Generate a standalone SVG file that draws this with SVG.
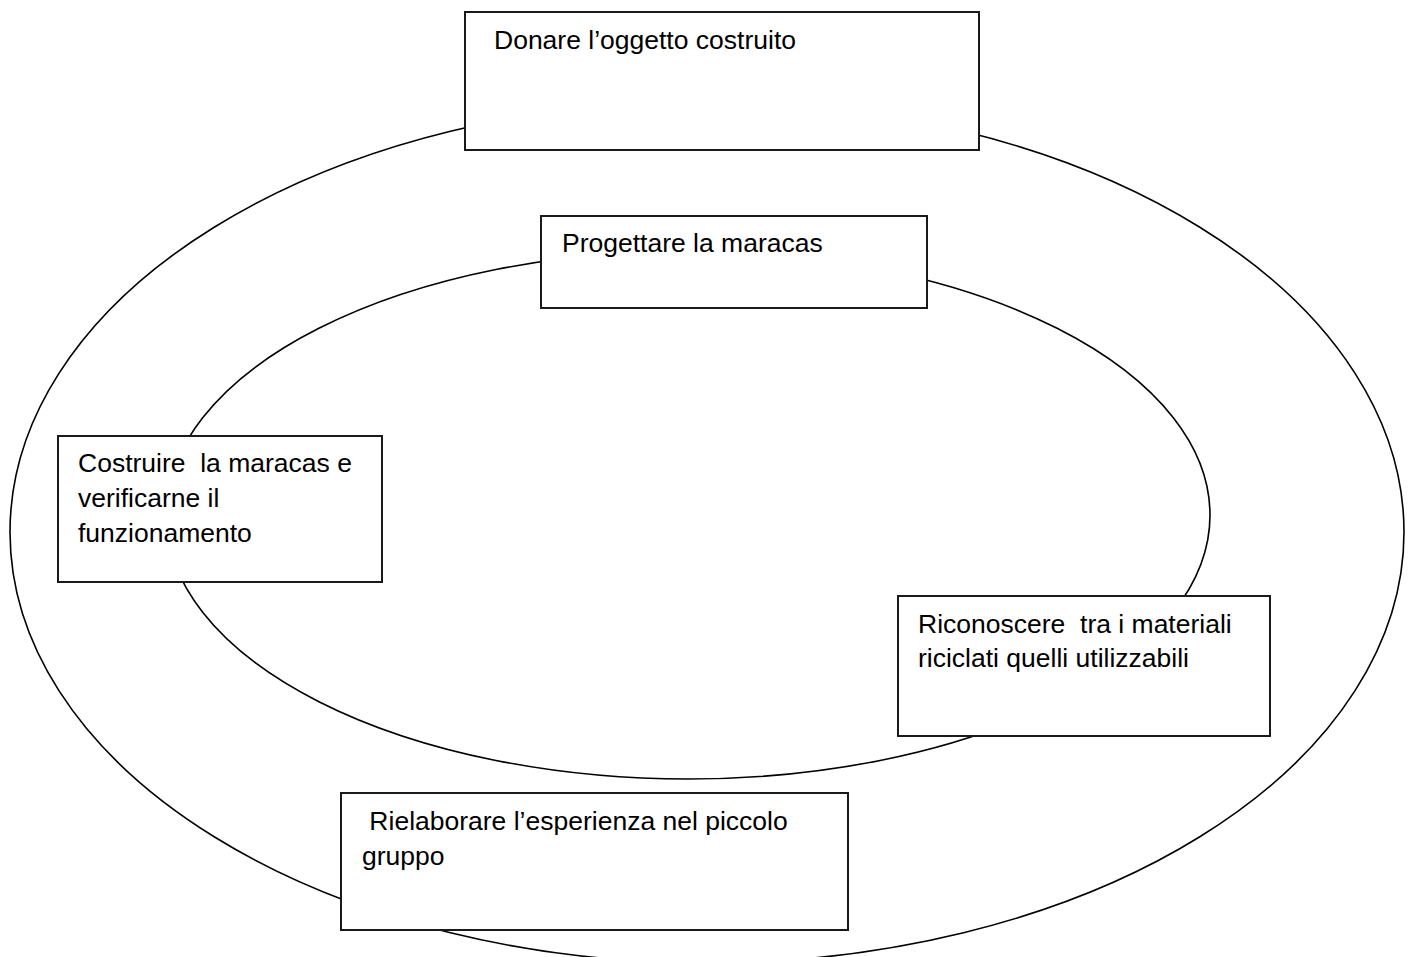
<svg xmlns="http://www.w3.org/2000/svg" width="1414" height="957" viewBox="0 0 1414 957">
  <style>
    .ring { fill: none; stroke: #000; stroke-width: 1.6; }
    .box { fill: #fff; stroke: #1a1a1a; stroke-width: 2; }
    .lbl { font-family: "Liberation Sans", Arial, sans-serif; font-size: 26.5px; fill: #000; white-space: pre; }
  </style>
  <rect x="0" y="0" width="1414" height="957" fill="#fff"/>
  <g id="connectors">
    <ellipse class="ring" cx="707" cy="532" rx="697" ry="431"/>
    <ellipse class="ring" cx="688" cy="515" rx="522" ry="264"/>
  </g>
  <g id="node-donare">
    <rect class="box" x="465" y="12" width="514" height="138"/>
    <text class="lbl" x="494" y="49">Donare l’oggetto costruito</text>
  </g>
  <g id="node-progettare">
    <rect class="box" x="541" y="216" width="386" height="92"/>
    <text class="lbl" x="562" y="252">Progettare la maracas</text>
  </g>
  <g id="node-costruire">
    <rect class="box" x="58" y="436" width="324" height="146"/>
    <text class="lbl" xml:space="preserve" x="78" y="472">Costruire  la maracas e</text>
    <text class="lbl" x="78" y="507">verificarne il</text>
    <text class="lbl" x="78" y="541.5">funzionamento</text>
  </g>
  <g id="node-riconoscere">
    <rect class="box" x="898" y="596" width="372" height="140"/>
    <text class="lbl" xml:space="preserve" x="918" y="633">Riconoscere  tra i materiali</text>
    <text class="lbl" x="918" y="667">riciclati quelli utilizzabili</text>
  </g>
  <g id="node-rielaborare">
    <rect class="box" x="341" y="793" width="507" height="137"/>
    <text class="lbl" xml:space="preserve" x="362" y="830"> Rielaborare l’esperienza nel piccolo</text>
    <text class="lbl" x="362" y="865">gruppo</text>
  </g>
</svg>
